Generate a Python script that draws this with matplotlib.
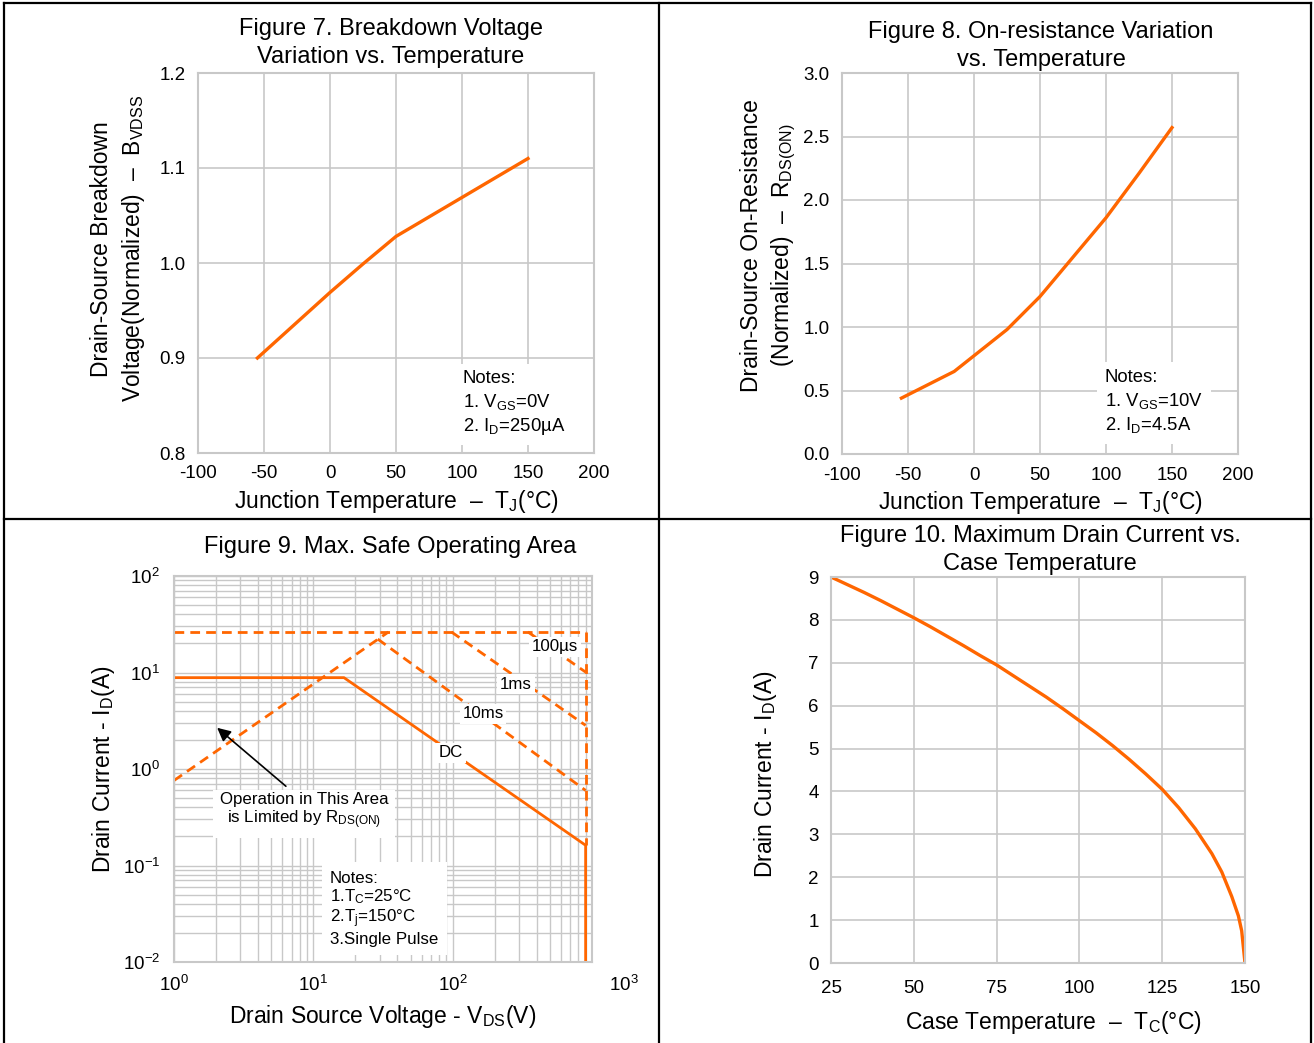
import matplotlib
matplotlib.use("Agg")
from matplotlib import pyplot as plt
from matplotlib.lines import Line2D
from matplotlib.transforms import ScaledTranslation
import numpy as np

plt.rcParams['font.family'] = ['Liberation Sans', 'DejaVu Sans']
plt.rcParams['mathtext.fontset'] = 'custom'
plt.rcParams['mathtext.rm'] = 'Liberation Sans'
plt.rcParams['mathtext.it'] = 'Liberation Sans:italic'
plt.rcParams['mathtext.bf'] = 'Liberation Sans:bold'
plt.rcParams['axes.unicode_minus'] = False

# -------- data ---------------------------------#

# Figure 7 : breakdown voltage vs Tj
t7 = [-55, 0, 25, 50, 100, 150]
bv7 = [0.900, 0.969, 0.999, 1.028, 1.069, 1.110]

# Figure 8 : on-resistance vs Tj
t8 = [-55, -15, 25, 50, 75, 100, 125, 150]
rds8 = [0.44, 0.65, 0.98, 1.24, 1.55, 1.86, 2.21, 2.57]

# Figure 9 : safe operating area
top_v = [1, 900]
top_i = [26.3, 26.3]
rds_v = [1, 34.6]
rds_i = [0.76, 26.3]
us100_v = [347, 900]
us100_i = [26.3, 10.1]
ms1_v = [98, 900]
ms1_i = [26.3, 2.83]
ms10_v = [29, 900]
ms10_i = [22.2, 0.60]
edge_v = [900, 900]
edge_i = [26.3, 0.162]
dc_v = [1, 16.6, 900, 900]
dc_i = [8.84, 8.84, 0.162, 0.01]

# Figure 10 : max drain current vs Tc
tc10 = [25, 30, 35, 40, 45, 50, 55, 60, 65, 70, 75, 80, 85, 90, 95, 100,
        105, 110, 115, 120, 125, 130, 135, 140, 143, 146, 148, 149, 150]
id10 = [9.00, 8.82, 8.64, 8.45, 8.25, 8.05, 7.84, 7.62, 7.40, 7.17, 6.95,
        6.70, 6.45, 6.20, 5.93, 5.65, 5.37, 5.07, 4.75, 4.41, 4.05, 3.62,
        3.13, 2.55, 2.12, 1.55, 1.10, 0.75, 0.0]

# -------- style ----------#
W, H = 1314, 1043
ORANGE = '#ff6600'
GRID = '#c8c8c8'
FS_TITLE = 17
FS_LABEL = 16.5
FS_TICK = 13.5
FS_NOTE = 13.3
FS_SOA = 12.2


def px(x, y):
    return x / W, 1 - y / H


def make_ax(fig, l, t, r, b):
    ax = fig.add_axes([l / W, 1 - b / H, (r - l) / W, (b - t) / H])
    for s in ax.spines.values():
        s.set_color(GRID)
        s.set_linewidth(1.5)
    ax.tick_params(length=0, labelsize=FS_TICK, pad=9)
    ax.set_axisbelow(True)
    return ax


fig = plt.figure(figsize=(W / 100, H / 100), dpi=100)

# frame lines
for xs, ys in [([4, 4], [3, H]), ([1311, 1311], [3, H]), ([4, 1311], [3, 3]),
               ([659, 659], [3, H]), ([4, 1311], [519, 519])]:
    fig.add_artist(Line2D([x / W for x in xs], [1 - y / H for y in ys],
                          transform=fig.transFigure, color='k', lw=1.6))

note_box = dict(facecolor='white', edgecolor='none', pad=6)

# ---- Figure 7
ax7 = make_ax(fig, 198, 73, 594, 453)
ax7.plot(t7, bv7, color=ORANGE, lw=2.4)
ax7.set_xlim(-100, 200)
ax7.set_ylim(0.8, 1.2)
ax7.set_xticks(np.arange(-100, 201, 50))
ax7.set_yticks([0.8, 0.9, 1.0, 1.1, 1.2])
ax7.set_yticklabels(['0.8', '0.9', '1.0', '1.1', '1.2'])
ax7.grid(True, color=GRID, lw=1.2)
ax7.set_xlabel(r'Junction Temperature  –  $\mathrm{T_J}$(°C)', fontsize=FS_LABEL, labelpad=4)
ax7.set_ylabel('Drain-Source Breakdown\n' + r'Voltage(Normalized)  –  $\mathrm{B_{VDSS}}$',
               fontsize=FS_LABEL, labelpad=9, linespacing=1.33)
ax7.yaxis.label.set_y(0.537)
ax7.text(0.669, 0.218, 'Notes:\n1. $\\mathrm{V_{GS}}$=0V\n2. $\\mathrm{I_D}$=250µA',
         transform=ax7.transAxes, fontsize=FS_NOTE, va='top', ha='left',
         linespacing=1.3, bbox=note_box)
fig.text(*px(391, 43), 'Figure 7. Breakdown Voltage\nVariation vs. Temperature',
         fontsize=FS_TITLE, ha='center', va='center', linespacing=1.35)

# ---- Figure 8
ax8 = make_ax(fig, 842, 73, 1238, 454)
ax8.plot(t8, rds8, color=ORANGE, lw=2.4)
ax8.set_xlim(-100, 200)
ax8.set_ylim(0, 3.0)
ax8.set_xticks(np.arange(-100, 201, 50))
ax8.set_yticks(np.arange(0, 3.01, 0.5))
ax8.set_yticklabels(['0.0', '0.5', '1.0', '1.5', '2.0', '2.5', '3.0'])
ax8.grid(True, color=GRID, lw=1.2)
ax8.set_xlabel(r'Junction Temperature  –  $\mathrm{T_J}$(°C)', fontsize=FS_LABEL, labelpad=4)
ax8.set_ylabel('Drain-Source On-Resistance\n' + r'(Normalized)  –  $\mathrm{R_{DS(ON)}}$',
               fontsize=FS_LABEL, labelpad=4, linespacing=1.33)
ax8.yaxis.label.set_y(0.547)
ax8.text(0.664, 0.222, 'Notes:\n1. $\\mathrm{V_{GS}}$=10V\n2. $\\mathrm{I_D}$=4.5A',
         transform=ax8.transAxes, fontsize=FS_NOTE, va='top', ha='left',
         linespacing=1.3, bbox=note_box)
fig.text(*px(1041, 46), 'Figure 8. On-resistance Variation\nvs. Temperature',
         fontsize=FS_TITLE, ha='center', va='center', linespacing=1.35)

# ---- Figure 9
ax9 = make_ax(fig, 174, 576, 592, 962)
ax9.set_xscale('log')
ax9.set_yscale('log')
ax9.set_xlim(1, 1000)
ax9.set_ylim(0.01, 100)
ax9.grid(True, which='both', color=GRID, lw=1.0)
ax9.tick_params(which='both', length=0)
dash = (0, (3.5, 2.2))
for xv, yv in [(top_v, top_i), (rds_v, rds_i), (us100_v, us100_i),
               (ms1_v, ms1_i), (ms10_v, ms10_i), (edge_v, edge_i)]:
    ax9.plot(xv, yv, color=ORANGE, lw=2.0, ls=dash)
ax9.plot(dc_v, dc_i, color=ORANGE, lw=2.0)
lab_box = dict(facecolor='white', edgecolor='none', pad=2)
for s, xv, yv in [('100µs', 543, 18.4), ('1ms', 285, 7.6),
                  ('10ms', 165, 3.72), ('DC', 97.4, 1.47)]:
    ax9.text(xv, yv, s, fontsize=FS_SOA, ha='center', va='center', bbox=lab_box, zorder=5)
ax9.annotate('', xy=(1.97, 2.79), xytext=(6.58, 0.635),
             arrowprops=dict(arrowstyle='-|>', color='k', lw=1.2, mutation_scale=20))
ax9.text(8.6, 0.36, 'Operation in This Area\nis Limited by $\\mathrm{R_{DS(ON)}}$',
         fontsize=FS_SOA, ha='center', va='center', linespacing=1.1,
         bbox=dict(facecolor='white', edgecolor='none', pad=5), zorder=5)
ax9.text(0.373, 0.237, 'Notes:\n1.$\\mathrm{T_C}$=25°C\n2.$\\mathrm{T_j}$=150°C\n3.Single Pulse',
         transform=ax9.transAxes, fontsize=FS_SOA, va='top', ha='left',
         linespacing=1.12, bbox=note_box, zorder=5)
ax9.tick_params(axis='x', pad=9)
ax9.tick_params(axis='y', pad=10)
ax9.set_xticks([1, 10, 100, 1000])
ax9.set_yticks([0.01, 0.1, 1, 10, 100])
xl = ax9.get_xticklabels()
xl[-1].set_transform(xl[-1].get_transform() + ScaledTranslation(0.32, 0, fig.dpi_scale_trans))
ax9.set_xlabel(r'Drain Source Voltage - $\mathrm{V_{DS}}$(V)', fontsize=FS_LABEL, labelpad=6)
ax9.set_ylabel(r'Drain Current - $\mathrm{I_D}$(A)', fontsize=FS_LABEL, labelpad=4)
fig.text(*px(390, 547), 'Figure 9. Max. Safe Operating Area',
         fontsize=FS_TITLE, ha='center', va='center')

# ---- Figure 10
ax10 = make_ax(fig, 831, 577, 1245, 963)
ax10.plot(tc10, id10, color=ORANGE, lw=2.4)
ax10.set_xlim(25, 150)
ax10.set_ylim(0, 9)
ax10.set_xticks(np.arange(25, 151, 25))
ax10.set_yticks(np.arange(0, 10, 1))
ax10.grid(True, color=GRID, lw=1.2)
ax10.tick_params(axis='x', pad=12)
ax10.set_xlabel(r'Case Temperature  –  $\mathrm{T_C}$(°C)', fontsize=FS_LABEL, labelpad=9)
ax10.xaxis.label.set_x(0.536)
ax10.set_ylabel(r'Drain Current - $\mathrm{I_D}$(A)', fontsize=FS_LABEL, labelpad=21)
ax10.yaxis.label.set_y(0.49)
fig.text(*px(1040, 550), 'Figure 10. Maximum Drain Current vs.\nCase Temperature',
         fontsize=FS_TITLE, ha='center', va='center', linespacing=1.35)

fig.savefig('out.png', dpi=100)
